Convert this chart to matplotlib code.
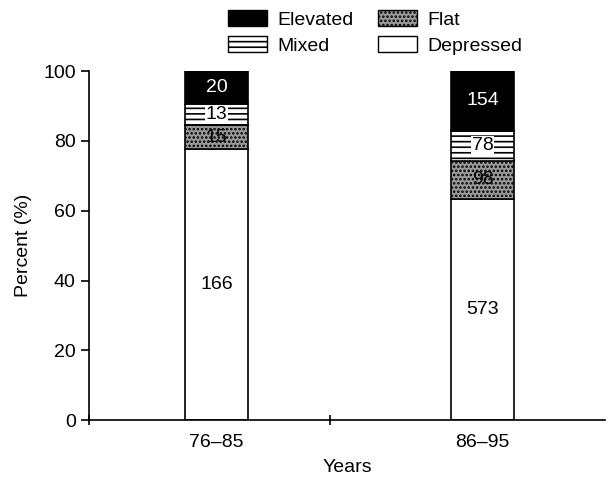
import matplotlib
matplotlib.use("Agg")
import matplotlib.pyplot as plt
import numpy as np
from matplotlib.patches import Patch

plt.rcParams['font.family'] = ['Liberation Sans', 'DejaVu Sans']
plt.rcParams['hatch.linewidth'] = 1.2

categories = ["76\u201385", "86\u201395"]
depressed = [166, 573]
flat = [15, 98]
mixed = [13, 78]
elevated = [20, 154]

series = [("Depressed", depressed), ("Flat", flat), ("Mixed", mixed), ("Elevated", elevated)]
styles = {
    "Depressed": dict(facecolor="white", hatch=None),
    "Flat": dict(facecolor="#9a9a9a", hatch="...."),
    "Mixed": dict(facecolor="white", hatch="---"),
    "Elevated": dict(facecolor="black", hatch=None),
}
label_color = {"Depressed": "black", "Flat": "black", "Mixed": "black", "Elevated": "white"}

fig = plt.figure(figsize=(6.10, 4.84), dpi=100)
ax = fig.add_axes([0.146, 0.132, 0.846, 0.721])

x = np.arange(len(categories))
totals = np.array(depressed) + np.array(flat) + np.array(mixed) + np.array(elevated)
bottom = np.zeros(len(categories))
width = 0.235
for name, vals in series:
    pct = np.array(vals) / totals * 100
    ax.bar(x, pct, width, bottom=bottom, edgecolor="black", linewidth=1.2,
           **styles[name])
    for i in range(len(categories)):
        kw = {}
        if name == "Mixed":
            kw["bbox"] = dict(facecolor="white", edgecolor="none", pad=0.5)
        ax.text(x[i], bottom[i] + pct[i] / 2, str(vals[i]), ha="center", va="center",
                fontsize=14, color=label_color[name], **kw)
    bottom += pct

ax.set_xlim(-0.48, 1.46)
ax.set_ylim(0, 100)
ax.set_yticks([0, 20, 40, 60, 80, 100])
ax.set_xticks(x)
ax.set_xticklabels(categories)
ax.tick_params(axis="x", which="major", length=0, pad=10, labelsize=14)
ax.set_xticks([-0.48, 0.425], minor=True)
ax.tick_params(axis="x", which="minor", length=7, width=1.2, direction="inout")
ax.tick_params(axis="y", labelsize=14, length=6, width=1.2)
for s in ["top", "right"]:
    ax.spines[s].set_visible(False)
for s in ["left", "bottom"]:
    ax.spines[s].set_linewidth(1.2)
ax.set_xlabel("Years", fontsize=14, labelpad=6)
ax.set_ylabel("Percent (%)", fontsize=14, labelpad=8)

handles = [
    Patch(facecolor="black", edgecolor="black", label="Elevated"),
    Patch(facecolor="white", edgecolor="black", hatch="---", label="Mixed"),
    Patch(facecolor="#9a9a9a", edgecolor="black", hatch="....", label="Flat"),
    Patch(facecolor="white", edgecolor="black", label="Depressed"),
]
fig.legend(handles=handles, ncol=2, loc="upper center", bbox_to_anchor=(0.615, 1.015),
           frameon=False, fontsize=14, handlelength=2.0, handleheight=0.9,
           columnspacing=1.3, labelspacing=0.35, handletextpad=0.5)

fig.savefig("out.png", dpi=100)
